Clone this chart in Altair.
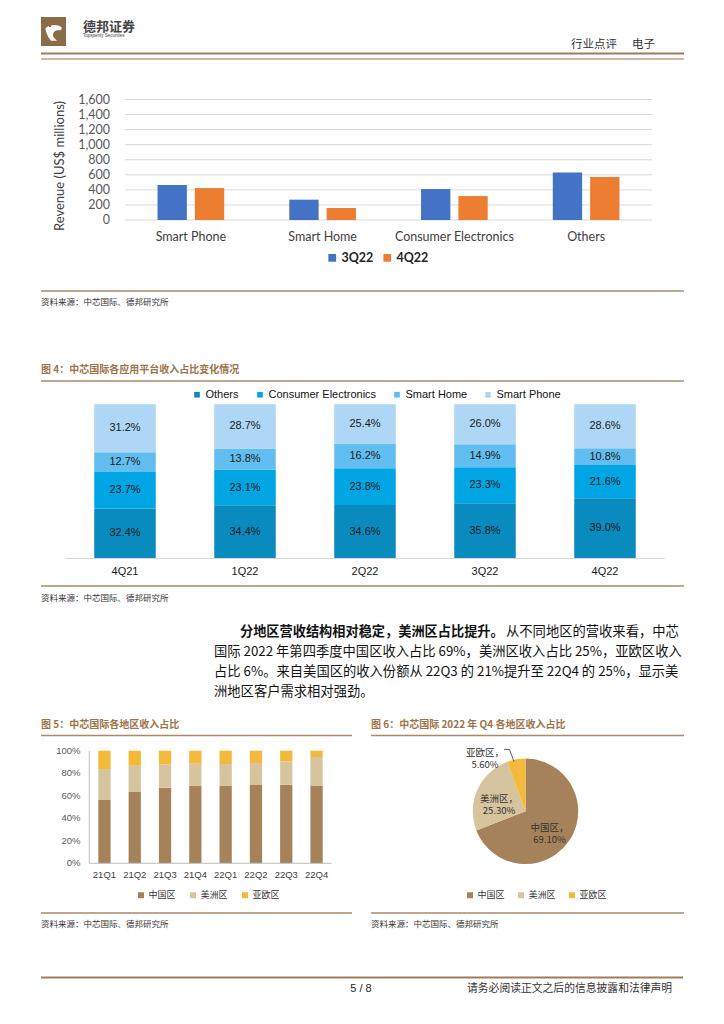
import altair as alt
import pandas as pd

MARGIN = 8


def px(v):
    return v - MARGIN


def py(v):
    return v - MARGIN


CJK = "Noto Sans CJK SC"
ARIAL = "Liberation Sans"
CALIBRI = "Lato"
RULE = "#A88A6A"
TITLE = "#9C7349"
SRC = "资料来源：中芯国际、德邦研究所"

# ---------------- data ----------------
rev_categories = ["Smart Phone", "Smart Home", "Consumer Electronics", "Others"]
rev_series = ["3Q22", "4Q22"]
rev_3q22 = [464, 270, 411, 632]
rev_4q22 = [424, 159, 318, 570]
rev_ticks = [0, 200, 400, 600, 800, 1000, 1200, 1400, 1600]

plat_quarters = ["4Q21", "1Q22", "2Q22", "3Q22", "4Q22"]
plat_segments = ["Others", "Consumer Electronics", "Smart Home", "Smart Phone"]
plat_others = [32.4, 34.4, 34.6, 35.8, 39.0]
plat_ce = [23.7, 23.1, 23.8, 23.3, 21.6]
plat_sh = [12.7, 13.8, 16.2, 14.9, 10.8]
plat_sp = [31.2, 28.7, 25.4, 26.0, 28.6]

reg_quarters = ["21Q1", "21Q2", "21Q3", "21Q4", "22Q1", "22Q2", "22Q3", "22Q4"]
reg_regions = ["中国区", "美洲区", "亚欧区"]
reg_china = [56.2, 63.3, 67.2, 68.6, 68.6, 69.5, 69.8, 69.1]
reg_america = [27.5, 23.4, 20.7, 19.9, 19.6, 19.6, 20.7, 25.3]
reg_asia = [16.3, 13.3, 12.1, 11.5, 11.8, 10.9, 9.5, 5.6]
reg_ticks = [0, 20, 40, 60, 80, 100]

pie_regions = ["中国区", "美洲区", "亚欧区"]
pie_share = [69.1, 25.3, 5.6]

region_colors = ["#A6825A", "#D5C49E", "#F4B93A"]
plat_colors = ["#0A8BBF", "#00A5E3", "#62BEF0", "#AED7F5"]

para_bold = "分地区营收结构相对稳定，美洲区占比提升。"
para_first = "从不同地区的营收来看，中芯"
para_lines = [
    "国际 2022 年第四季度中国区收入占比 69%，美洲区收入占比 25%，亚欧区收入",
    "占比 6%。来自美国区的收入份额从 22Q3 的 21%提升至 22Q4 的 25%，显示美",
    "洲地区客户需求相对强劲。",
]

layers = []


def one():
    return pd.DataFrame({"k": [0]})


def text_mark(s, x, y, size, font=CJK, color="#333333", weight="normal", align="left", angle=0):
    return alt.Chart(pd.DataFrame({"t": [s]})).mark_text(
        align=align, baseline="middle", fontSize=size, font=font, color=color,
        fontWeight=weight, angle=angle,
    ).encode(x=alt.value(px(x)), y=alt.value(py(y)), text="t:N")


def hrule(x1, x2, y, color=RULE, width=1.5):
    return alt.Chart(one()).mark_rule(color=color, strokeWidth=width).encode(
        x=alt.value(px(x1)), x2=alt.value(px(x2)), y=alt.value(py(y)))


def seg(x1, y1, x2, y2, color="#333333", width=0.8):
    return alt.Chart(one()).mark_rule(color=color, strokeWidth=width).encode(
        x=alt.value(px(x1)), x2=alt.value(px(x2)), y=alt.value(py(y1)), y2=alt.value(py(y2)))


# ---------------- header ----------------
layers.append(alt.Chart(one()).mark_rect(color="#8C6B47").encode(
    x=alt.value(px(41)), x2=alt.value(px(66)), y=alt.value(py(17)), y2=alt.value(py(46))))
leopard = ("M -0.75 -0.35 C -0.4 -0.75 0.45 -0.8 0.85 -0.45 L 0.8 -0.2 L 0.3 -0.15 "
           "C 0.05 -0.05 -0.1 0.25 0.1 0.55 L 0.4 0.85 L -0.2 0.85 C -0.5 0.5 -0.65 0.1 -0.75 -0.35 Z")
layers.append(alt.Chart(one()).mark_point(shape=leopard, filled=True, color="white", opacity=1, size=420).encode(
    x=alt.value(px(53)), y=alt.value(py(32))))
layers.append(alt.Chart(pd.DataFrame({"k": [0, 1, 2]})).mark_point(filled=True, color="#8C6B47", opacity=1,
                                                                   size=5).encode(
    x=alt.value(px(50)), y=alt.value(py(26))))
layers.append(text_mark("德邦证券", 83, 26.5, 13, weight="bold", color="#444444"))
layers.append(text_mark("Topsperity Securities", 83, 35.5, 4.5, font=ARIAL, color="#444444"))
layers.append(text_mark("行业点评", 571, 45, 11.5, color="#333333"))
layers.append(text_mark("电子", 632, 45, 11.5, color="#333333"))
layers.append(hrule(41, 684, 53.5, color="#A07C58", width=2.2))
layers.append(hrule(41, 684, 59, color="#BFA184", width=1.3))

# ---------------- figure 3: revenue bars ----------------
rev_df = pd.DataFrame({
    "category": rev_categories * 2,
    "series": [rev_series[0]] * 4 + [rev_series[1]] * 4,
    "revenue": rev_3q22 + rev_4q22,
})
rev_x = alt.Scale(domain=rev_categories, range=[px(125), px(652)], paddingInner=0.494, paddingOuter=0.247)
rev_y = alt.Scale(domain=[0, 1600], range=[py(220), py(99.5)])
tick_df = pd.DataFrame({"tick": rev_ticks})
layers.append(alt.Chart(tick_df).mark_rule(color="#D9D9D9", strokeWidth=1).encode(
    y=alt.Y("tick:Q", scale=rev_y, axis=None), x=alt.value(px(125)), x2=alt.value(px(652))))
layers.append(alt.Chart(tick_df).mark_text(align="right", baseline="middle", fontSize=12.5, font=CALIBRI,
                                           color="#595959").encode(
    y=alt.Y("tick:Q", scale=rev_y, axis=None), x=alt.value(px(110)), text=alt.Text("tick:Q", format=",")))
layers.append(alt.Chart(rev_df).mark_bar().encode(
    x=alt.X("category:N", scale=rev_x, axis=None),
    xOffset=alt.XOffset("series:N", scale=alt.Scale(domain=rev_series, paddingInner=0.214, paddingOuter=0)),
    y=alt.Y("revenue:Q", scale=rev_y, axis=None),
    color=alt.Color("series:N", scale=alt.Scale(domain=rev_series, range=["#4472C4", "#ED7D31"]),
                    legend=alt.Legend(orient="none", legendX=px(326), legendY=py(251.5), direction="horizontal",
                                      title=None, symbolType="square", symbolSize=60, symbolStrokeWidth=0,
                                      labelFont=CALIBRI, labelFontSize=12.5, labelFontWeight="bold",
                                      labelColor="#262626", columnPadding=7, labelOffset=3, padding=0)),
))
layers.append(alt.Chart(pd.DataFrame({"category": rev_categories})).mark_text(
    baseline="middle", fontSize=12.5, font=CALIBRI, color="#404040").encode(
    x=alt.X("category:N", scale=rev_x, axis=None), y=alt.value(py(237)), text="category:N"))
layers.append(text_mark("Revenue (US$  millions)", 59.5, 166, 13, font=CALIBRI, color="#404040",
                        align="center", angle=270))
layers.append(hrule(41, 684, 291))
layers.append(text_mark(SRC, 41, 302, 8.5, color="#333333"))

# ---------------- figure 4: platform share ----------------
layers.append(text_mark("图 4：中芯国际各应用平台收入占比变化情况", 41, 370, 10, color=TITLE, weight="bold"))
layers.append(hrule(41, 684, 381))
plat_rows = []
for qi, q in enumerate(plat_quarters):
    for si, vals in enumerate([plat_others, plat_ce, plat_sh, plat_sp]):
        plat_rows.append({"quarter": q, "segment": plat_segments[si], "share": vals[qi], "rank": si})
plat_df = pd.DataFrame(plat_rows)
plat_x = alt.Scale(domain=plat_quarters, range=[px(65), px(665)], paddingInner=0.4875, paddingOuter=0.24375)
plat_y = alt.Scale(domain=[0, 100], range=[py(558.3), py(404.3)])
layers.append(alt.Chart(plat_df).mark_bar().encode(
    x=alt.X("quarter:N", scale=plat_x, axis=None),
    y=alt.Y("share:Q", stack="zero", scale=plat_y, axis=None),
    order=alt.Order("rank:Q", sort="ascending"),
    color=alt.Color("segment:N", scale=alt.Scale(domain=plat_segments, range=plat_colors),
                    legend=alt.Legend(orient="none", legendX=px(191.5), legendY=py(389), direction="horizontal",
                                      title=None, symbolType="square", symbolSize=32, symbolStrokeWidth=0,
                                      labelFont=ARIAL, labelFontSize=11, labelColor="#111111",
                                      columnPadding=15, labelOffset=3, padding=0)),
))
layers.append(alt.Chart(plat_df).transform_stack(
    stack="share", as_=["s0", "s1"], groupby=["quarter"], sort=[alt.SortField("rank", order="ascending")]
).transform_calculate(
    mid="(datum.s0 + datum.s1) / 2", label="format(datum.share, '.1f') + '%'"
).mark_text(baseline="middle", fontSize=11, font=ARIAL, color="#1A1A1A").encode(
    x=alt.X("quarter:N", scale=plat_x, axis=None),
    y=alt.Y("mid:Q", scale=plat_y, axis=None),
    text="label:N",
))
layers.append(hrule(65, 665, 558.5, color="#D9D9D9", width=1))
layers.append(alt.Chart(pd.DataFrame({"quarter": plat_quarters})).mark_text(
    baseline="middle", fontSize=11, font=ARIAL, color="#1A1A1A").encode(
    x=alt.X("quarter:N", scale=plat_x, axis=None), y=alt.value(py(571.5)), text="quarter:N"))
layers.append(hrule(41, 684, 586))
layers.append(text_mark(SRC, 41, 598, 8.5, color="#333333"))

# ---------------- paragraph ----------------
layers.append(text_mark(para_bold, 240, 632, 13.2, weight="bold", color="#111111"))
layers.append(text_mark(para_first, 506, 632, 13.3, color="#111111"))
for i, line in enumerate(para_lines):
    layers.append(text_mark(line, 214, 652 + 20 * i, 13.3, color="#111111"))

# ---------------- figure 5: region share bars ----------------
layers.append(text_mark("图 5：中芯国际各地区收入占比", 41, 725, 10, color=TITLE, weight="bold"))
layers.append(hrule(41, 352, 735.5))
reg_rows = []
for qi, q in enumerate(reg_quarters):
    for ri, vals in enumerate([reg_china, reg_america, reg_asia]):
        reg_rows.append({"quarter": q, "region": reg_regions[ri], "share": vals[qi], "rank": ri})
reg_df = pd.DataFrame(reg_rows)
reg_x = alt.Scale(domain=reg_quarters, range=[px(89.3), px(331.7)], paddingInner=0.595, paddingOuter=0.2975)
reg_y = alt.Scale(domain=[0, 100], range=[py(863.3), py(750.7)])
layers.append(alt.Chart(reg_df).mark_bar().encode(
    x=alt.X("quarter:N", scale=reg_x, axis=None),
    y=alt.Y("share:Q", stack="zero", scale=reg_y, axis=None),
    order=alt.Order("rank:Q", sort="ascending"),
    color=alt.Color("region:N", scale=alt.Scale(domain=reg_regions, range=region_colors),
                    legend=alt.Legend(orient="none", legendX=px(136.5), legendY=py(890.5), direction="horizontal",
                                      title=None, symbolType="square", symbolSize=36, symbolStrokeWidth=0,
                                      labelFont=CJK, labelFontSize=9, labelColor="#333333",
                                      columnPadding=12, labelOffset=3, padding=0)),
))
layers.append(seg(89.3, 750.7, 89.3, 863.3, color="#BFBFBF", width=1))
layers.append(hrule(89.3, 331.7, 863.3, color="#BFBFBF", width=1))
layers.append(alt.Chart(pd.DataFrame({"tick": reg_ticks})).transform_calculate(
    label="datum.tick + '%'"
).mark_text(align="right", baseline="middle", fontSize=9.5, font=ARIAL, color="#595959").encode(
    y=alt.Y("tick:Q", scale=reg_y, axis=None), x=alt.value(px(80.5)), text="label:N"))
layers.append(alt.Chart(pd.DataFrame({"quarter": reg_quarters})).mark_text(
    baseline="middle", fontSize=9.5, font=ARIAL, color="#404040").encode(
    x=alt.X("quarter:N", scale=reg_x, axis=None), y=alt.value(py(874.5)), text="quarter:N"))
layers.append(hrule(41, 352, 913))
layers.append(text_mark(SRC, 41, 924, 8.5, color="#333333"))

# ---------------- figure 6: pie ----------------
layers.append(text_mark("图 6：中芯国际 2022 年 Q4 各地区收入占比", 371, 725, 10, color=TITLE, weight="bold"))
layers.append(hrule(371, 684, 735.5))
pie_df = pd.DataFrame({"region": pie_regions, "share": pie_share, "rank": [0, 1, 2]})
pie_df["label"] = [f"{r}，\n{s:.2f}%" for r, s in zip(pie_regions, pie_share)]
CX, CY, R = 525.5, 811.3, 52.7
layers.append(alt.Chart(pie_df).mark_arc(outerRadius=R).encode(
    theta=alt.Theta("share:Q", stack=True),
    order=alt.Order("rank:Q", sort="ascending"),
    color=alt.Color("region:N", scale=alt.Scale(domain=pie_regions, range=region_colors),
                    legend=alt.Legend(orient="none", legendX=px(465.5), legendY=py(890.5), direction="horizontal",
                                      title=None, symbolType="square", symbolSize=36, symbolStrokeWidth=0,
                                      labelFont=CJK, labelFontSize=9, labelColor="#333333",
                                      columnPadding=11, labelOffset=3, padding=0)),
    x=alt.value(px(CX)), y=alt.value(py(CY)),
))
layers.append(alt.Chart(pie_df).transform_stack(
    stack="share", as_=["t0", "t1"], groupby=[], sort=[alt.SortField("rank", order="ascending")]
).transform_calculate(mid="(datum.t0 + datum.t1) / 2").transform_filter("datum.rank < 2").mark_text(
    baseline="middle", align="center", fontSize=9.5, font=CJK, color="#333333", lineBreak="\n", lineHeight=12,
).encode(
    theta=alt.Theta("mid:Q", scale=alt.Scale(domain=[0, 100], range=[0, 6.283185307])),
    radius=alt.value(29),
    x=alt.value(px(CX)), y=alt.value(py(CY)),
    text="label:N",
))
layers.append(alt.Chart(pie_df.iloc[[2]]).mark_text(
    baseline="middle", align="center", fontSize=9.5, font=CJK, color="#333333", lineBreak="\n", lineHeight=12,
).encode(x=alt.value(px(485)), y=alt.value(py(753)), text="label:N"))
layers.append(seg(504, 749.3, 509.5, 749.6))
layers.append(seg(509.5, 749.6, 514, 761.5))
layers.append(hrule(371, 684, 913))
layers.append(text_mark(SRC, 371, 924, 8.5, color="#333333"))

# ---------------- footer ----------------
layers.append(hrule(41, 683, 977.5, color="#A07C58", width=2))
layers.append(text_mark("5 / 8", 361, 989, 11, font=ARIAL, color="#222222", align="center"))
layers.append(text_mark("请务必阅读正文之后的信息披露和法律声明", 467, 989, 10.8, color="#333333"))

chart = alt.layer(*layers).resolve_scale(
    x="independent", y="independent", color="independent", theta="independent"
).properties(
    width=708, height=1008, padding=0, autosize="none", background="white"
).configure_view(stroke=None)

chart.save("out.html", embed_options={"renderer": "svg", "actions": False})
